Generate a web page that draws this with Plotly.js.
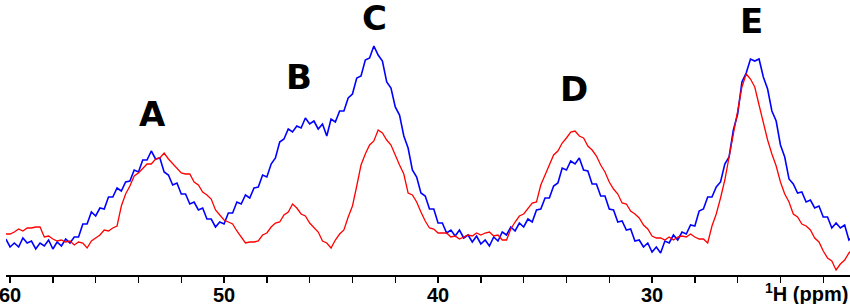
<!DOCTYPE html>
<html>
<head>
<meta charset="utf-8">
<script src="https://cdn.plot.ly/plotly-3.0.1.min.js"></script>
<style>html,body{margin:0;padding:0;background:#fff;}#chart{width:850px;height:304px;}</style>
</head>
<body>
<div id="chart"></div>
<script>
// Chemical shift grid (ppm)
const ppm = [
60.2,60.0,59.8,59.6,59.4,59.2,59.0,58.8,58.6,58.4,
58.2,58.0,57.8,57.6,57.4,57.2,57.0,56.8,56.6,56.4,
56.2,56.0,55.8,55.6,55.4,55.2,55.0,54.8,54.6,54.4,
54.2,54.0,53.8,53.6,53.4,53.2,53.0,52.8,52.6,52.4,
52.2,52.0,51.8,51.6,51.4,51.2,51.0,50.8,50.6,50.4,
50.2,50.0,49.8,49.6,49.4,49.2,49.0,48.8,48.6,48.4,
48.2,48.0,47.8,47.6,47.4,47.2,47.0,46.8,46.6,46.4,
46.2,46.0,45.8,45.6,45.4,45.2,45.0,44.8,44.6,44.4,
44.2,44.0,43.8,43.6,43.4,43.2,43.0,42.8,42.6,42.4,
42.2,42.0,41.8,41.6,41.4,41.2,41.0,40.8,40.6,40.4,
40.2,40.0,39.8,39.6,39.4,39.2,39.0,38.8,38.6,38.4,
38.2,38.0,37.8,37.6,37.4,37.2,37.0,36.8,36.6,36.4,
36.2,36.0,35.8,35.6,35.4,35.2,35.0,34.8,34.6,34.4,
34.2,34.0,33.8,33.6,33.4,33.2,33.0,32.8,32.6,32.4,
32.2,32.0,31.8,31.6,31.4,31.2,31.0,30.8,30.6,30.4,
30.2,30.0,29.8,29.6,29.4,29.2,29.0,28.8,28.6,28.4,
28.2,28.0,27.8,27.6,27.4,27.2,27.0,26.8,26.6,26.4,
26.2,26.0,25.8,25.6,25.4,25.2,25.0,24.8,24.6,24.4,
24.2,24.0,23.8,23.6,23.4,23.2,23.0,22.8,22.6,22.4,
22.2,22.0,21.8,21.6,21.4,21.2,21.0,20.8,20.6
];

// Blue spectrum intensity (a.u.)
const blueSpectrum = [
36,28,32,28,37,32,34,26,32,29,
35,26,33,29,36,32,38,38,51,51,
63,59,67,66,78,78,87,84,93,94,
105,103,115,115,124,116,117,103,100,90,
92,81,81,71,73,65,67,56,56,48,
53,51,62,62,73,71,80,77,87,88,
100,98,111,117,133,136,146,143,149,147,
157,151,154,146,151,139,156,153,164,164,
177,181,197,199,215,217,229,220,214,193,
187,168,160,139,127,105,98,82,79,66,
66,52,52,42,45,39,45,37,40,33,
39,31,35,29,38,34,43,40,48,44,
52,48,56,53,65,66,77,77,89,92,
107,105,114,111,117,105,104,91,91,79,
79,66,65,53,54,45,46,34,35,28,
32,23,28,22,34,32,40,35,43,41,
50,49,64,66,78,78,88,93,111,118,
145,161,193,202,216,214,216,198,186,164,
154,130,118,96,91,82,83,73,75,67,
69,58,58,47,52,47,50,35,39
];

// Red spectrum intensity (a.u.)
const redSpectrum = [
41,41,43,46,44,47,47,48,48,38,
39,36,34,35,33,34,30,33,32,27,
34,37,40,45,44,47,49,69,81,89,
99,102,107,111,111,116,117,122,116,111,
107,102,101,101,93,90,83,80,76,65,
60,55,53,51,44,38,32,33,33,34,
40,42,48,52,53,60,63,71,67,61,
59,52,47,43,34,32,27,35,41,45,
58,69,89,110,121,130,134,145,142,135,
130,119,110,101,82,80,73,63,54,47,
46,42,42,42,38,39,36,38,40,39,
42,40,42,43,39,40,35,35,46,53,
59,61,66,72,73,90,100,110,120,124,
132,137,143,144,139,137,129,125,119,110,
103,93,86,81,72,71,64,61,57,50,
46,39,37,37,35,38,35,38,39,38,
41,38,36,36,32,49,61,77,95,118,
143,164,188,201,196,188,170,151,135,121,
109,93,81,73,61,58,51,49,45,37,
33,24,17,14,5,11,15,22,26
];

// Peak labels
const peakLabels = ["A","B","C","D","E"];
const peakLabelPpm = [53.36, 46.5, 42.99, 33.64, 25.33];
const peakLabelY = [161, 198, 257, 186, 254];

const tickValues = [60, 50, 40, 30];
const tickLabels = ["60", "50", "40", "30"];
const axisLabel = "<sup>1</sup>H (ppm)";

const traces = [
  {x: ppm, y: blueSpectrum, type: "scatter", mode: "lines",
   line: {color: "#0000ff", width: 1.6}, hoverinfo: "skip"},
  {x: ppm, y: redSpectrum, type: "scatter", mode: "lines",
   line: {color: "#ff0000", width: 1.3}, hoverinfo: "skip"}
];

const annotations = peakLabels.map((t, i) => ({
  x: peakLabelPpm[i], y: peakLabelY[i], xref: "x", yref: "y",
  text: t, showarrow: false, xanchor: "center", yanchor: "middle",
  font: {family: "DejaVu Sans", size: 34, color: "#000", weight: "bold"}
}));
annotations.push({
  x: 1, y: -0.062, xref: "paper", yref: "paper", text: axisLabel,
  showarrow: false, xanchor: "right", yanchor: "middle",
  font: {family: "Liberation Sans", size: 20, color: "#000", weight: "bold"}
});

const layout = {
  width: 850, height: 304,
  margin: {l: 6, r: 0, t: 0, b: 29, pad: 0},
  paper_bgcolor: "#fff", plot_bgcolor: "#fff",
  showlegend: false,
  xaxis: {
    range: [60.19, 20.75], showgrid: false, zeroline: false,
    showline: true, linecolor: "#000", linewidth: 2,
    ticks: "outside", ticklen: 6, tickwidth: 2, tickcolor: "#000",
    tickvals: tickValues, ticktext: tickLabels,
    ticklabeloverflow: "allow", ticklabelstandoff: -5,
    tickfont: {family: "Liberation Sans", size: 20, color: "#000", weight: "bold"},
    minor: {dtick: 2, tick0: 0, ticks: "outside", ticklen: 6, tickwidth: 1.5, tickcolor: "#000", showgrid: false}
  },
  yaxis: {range: [0, 275], visible: false, showgrid: false, zeroline: false},
  annotations: annotations
};

Plotly.newPlot("chart", traces, layout, {staticPlot: true, displayModeBar: false});
</script>
</body>
</html>
